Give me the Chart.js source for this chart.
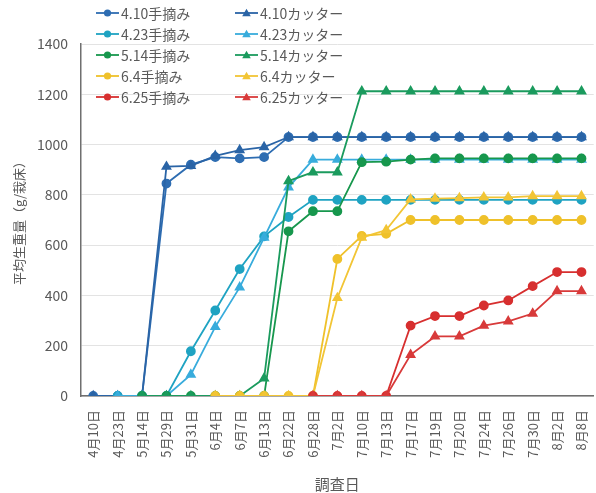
<!DOCTYPE html>
<html>
<head>
<meta charset="utf-8">
<script src="https://cdn.jsdelivr.net/npm/chart.js@4.4.1/dist/chart.umd.min.js"></script>
<style>
  html, body { margin: 0; padding: 0; background: #ffffff; overflow: hidden; }
  #wrap { position: relative; width: 596px; height: 493px; overflow: hidden; }
  #legend { position: absolute; left: 0; top: 0; font-family: "Noto Sans CJK JP", "Noto Sans", sans-serif; font-size: 14px; color: #595959; }
  .item { position: absolute; height: 20px; display: flex; align-items: center; white-space: nowrap; }
  .item svg { margin-right: 2px; }
</style>
</head>
<body>
<div id="wrap">
  <canvas id="c" width="600" height="493" style="width:600px;height:493px"></canvas>
  <div id="legend"></div>
</div>
<script>
// ---- data ----
const categories = ['4月10日','4月23日','5月14日','5月29日','5月31日','6月4日','6月7日','6月13日','6月22日','6月28日','7月2日','7月10日','7月13日','7月17日','7月19日','7月20日','7月24日','7月26日','7月30日','8月2日','8月8日'];
const seriesLabels = ['4.10手摘み','4.10カッター','4.23手摘み','4.23カッター','5.14手摘み','5.14カッター','6.4手摘み','6.4カッター','6.25手摘み','6.25カッター'];
const hand0410   = [0,0,0,845,920,950,945,950,1030,1030,1030,1030,1030,1030,1030,1030,1030,1030,1030,1030,1030];
const cutter0410 = [0,0,0,912,915,955,978,990,1030,1030,1030,1030,1030,1030,1030,1030,1030,1030,1030,1030,1030];
const hand0423   = [null,0,0,0,178,340,505,635,712,780,780,780,780,780,780,780,780,780,780,780,780];
const cutter0423 = [null,0,0,0,85,275,432,630,830,940,940,940,940,940,940,940,940,940,940,940,940];
const hand0514   = [null,null,0,0,0,0,0,0,655,735,735,930,932,940,945,945,945,945,945,945,945];
const cutter0514 = [null,null,0,0,0,0,0,70,855,890,890,1212,1212,1212,1212,1212,1212,1212,1212,1212,1212];
const hand0604   = [null,null,null,null,null,0,0,0,0,0,545,637,645,700,700,700,700,700,700,700,700];
const cutter0604 = [null,null,null,null,null,0,0,0,0,0,390,630,660,782,785,787,790,790,795,795,795];
const hand0625   = [null,null,null,null,null,null,null,null,null,0,0,0,0,280,318,318,360,380,437,493,493];
const cutter0625 = [null,null,null,null,null,null,null,null,null,0,0,0,0,164,237,237,280,297,328,417,417];
const yTicks = [0,200,400,600,800,1000,1200,1400];

const seriesValues = [hand0410,cutter0410,hand0423,cutter0423,hand0514,cutter0514,hand0604,cutter0604,hand0625,cutter0625];
const seriesColors = ['#2E6DB2','#2A64A6','#1FA3C2','#38ACDC','#17974D','#1B9B5E','#EFC12A','#F2C535','#D72F2F','#D83A3A'];

const datasets = seriesValues.map((vals, i) => ({
  label: seriesLabels[i],
  data: vals,
  borderColor: seriesColors[i],
  backgroundColor: seriesColors[i],
  pointBackgroundColor: seriesColors[i],
  pointBorderColor: seriesColors[i],
  pointStyle: i % 2 === 0 ? 'circle' : 'triangle',
  pointRadius: i % 2 === 0 ? 4 : 4.5,
  borderWidth: 1.8,
  tension: 0,
  spanGaps: false,
  order: seriesValues.length - i
}));

const FONT = '"Noto Sans CJK JP", "Noto Sans", sans-serif';

new Chart(document.getElementById('c'), {
  type: 'line',
  data: { labels: categories, datasets: datasets },
  options: {
    responsive: false,
    animation: false,
    layout: { padding: { left: 7, right: 0, top: 44, bottom: 0 } },
    plugins: {
      legend: { display: false },
      tooltip: { enabled: false }
    },
    scales: {
      x: {
        offset: true,
        grid: { display: false, drawTicks: false },
        border: { display: true, color: '#6f6f6f', width: 1.5 },
        ticks: {
          autoSkip: false, maxRotation: 90, minRotation: 90,
          font: { family: FONT, size: 13 }, color: '#595959', padding: 14
        },
        title: {
          display: true, text: '調査日',
          font: { family: FONT, size: 15 }, color: '#595959',
          padding: { top: 0, bottom: 0 }
        },
        afterFit: (s) => { s.height = 97; s.paddingRight = 0; s.paddingLeft = 0; }
      },
      y: {
        min: 0, max: 1400,
        afterBuildTicks: (s) => { s.ticks = yTicks.map(v => ({ value: v })); },
        grid: { color: '#e3e3e3', drawTicks: false, lineWidth: 1 },
        border: { display: true, color: '#6f6f6f', width: 1.5 },
        ticks: {
          font: { family: FONT, size: 14 }, color: '#595959', padding: 13,
          callback: (v) => String(v)
        },
        title: {
          display: true, text: '平均生重量（g/栽床）',
          font: { family: FONT, size: 13 }, color: '#595959',
          padding: { top: 4, bottom: 4 }
        },
        afterFit: (s) => { s.width = 74; }
      }
    }
  }
});

// ---- HTML legend (two columns, five rows) ----
const legend = document.getElementById('legend');
datasets.forEach((ds, i) => {
  const row = Math.floor(i / 2), col = i % 2;
  const div = document.createElement('div');
  div.className = 'item';
  div.style.left = (col === 0 ? 96 : 235) + 'px';
  div.style.top = (3 + row * 21) + 'px';
  const c = ds.borderColor;
  const marker = ds.pointStyle === 'circle'
    ? `<circle cx="11.5" cy="6" r="3.6" fill="${c}"/>`
    : `<polygon points="11.5,1.8 15.8,9.2 7.2,9.2" fill="${c}"/>`;
  div.innerHTML = `<svg width="23" height="12" viewBox="0 0 23 12"><line x1="0" y1="6" x2="23" y2="6" stroke="${c}" stroke-width="1.8"/>${marker}</svg><span>${ds.label}</span>`;
  legend.appendChild(div);
});
</script>
</body>
</html>
